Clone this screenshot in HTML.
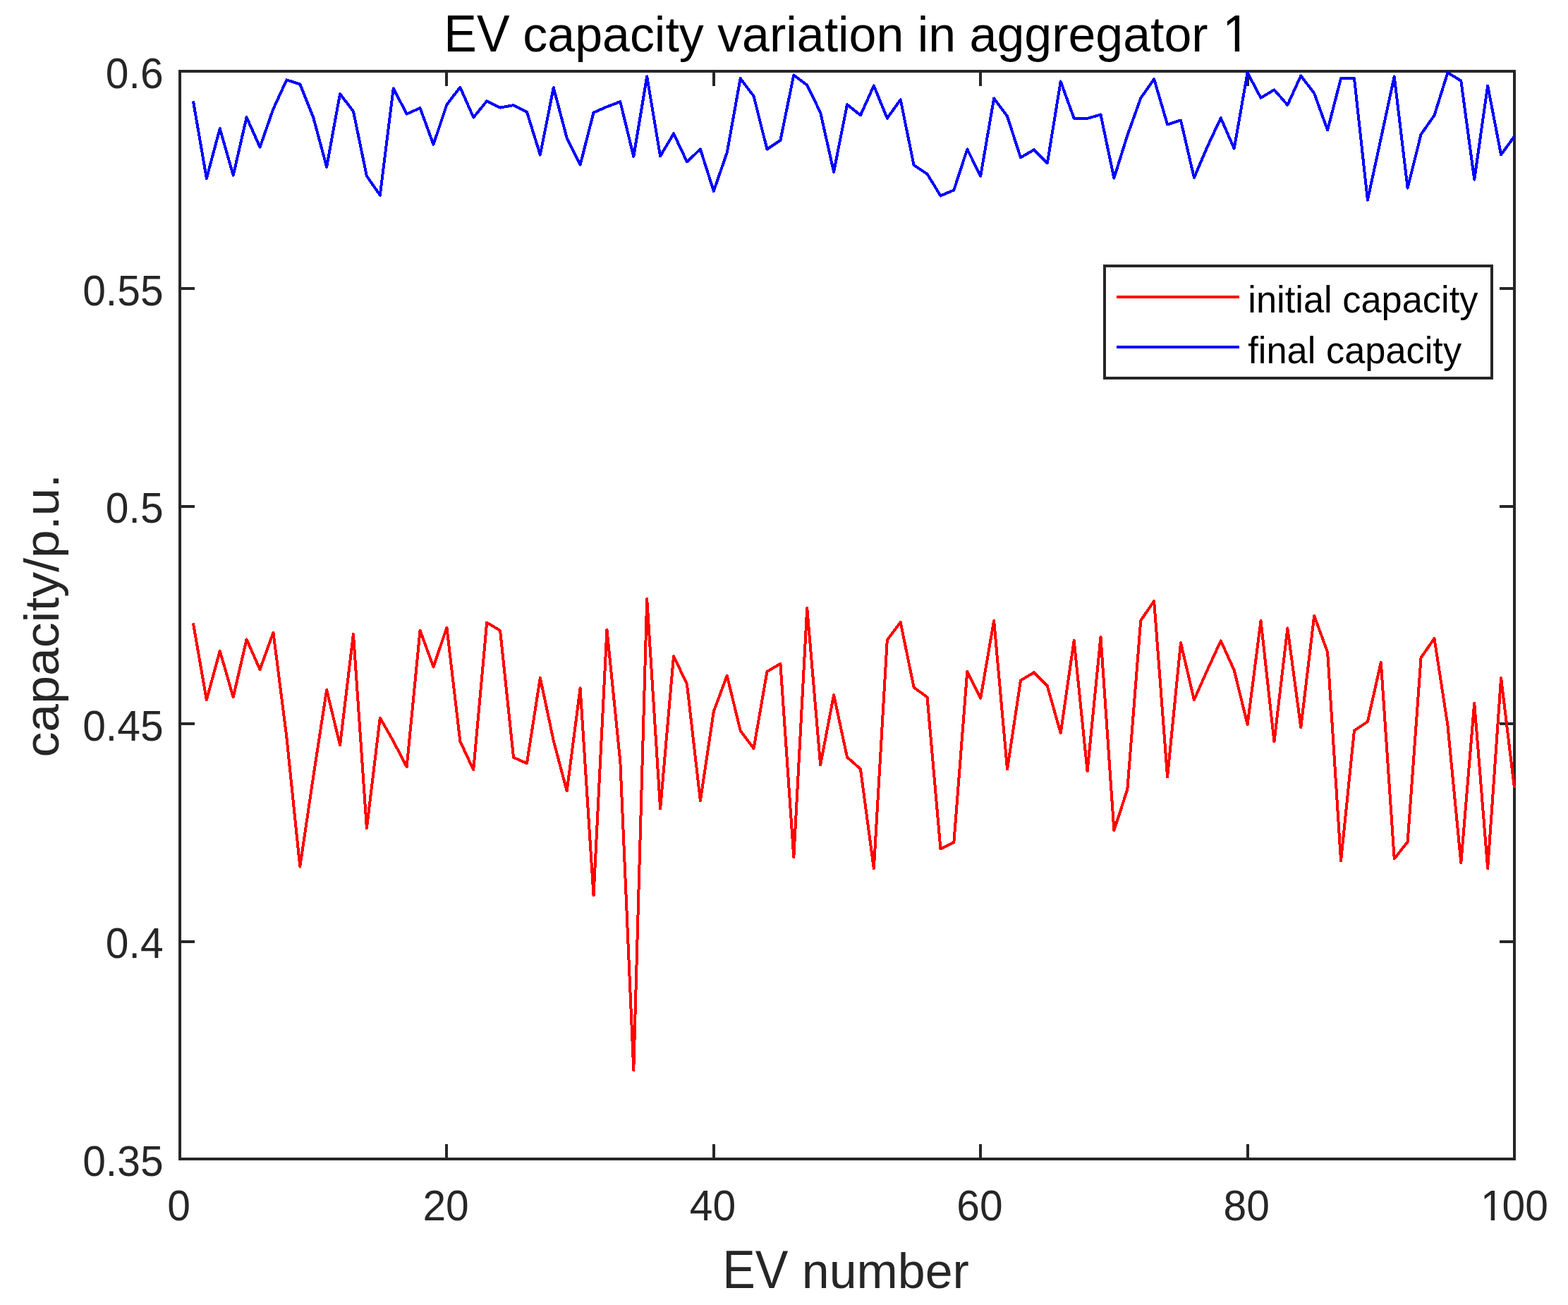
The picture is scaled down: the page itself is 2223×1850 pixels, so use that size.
<!DOCTYPE html>
<html lang="en">
<head>
<meta charset="utf-8">
<title>EV capacity variation in aggregator 1</title>
<style>
html,body{margin:0;padding:0;background:#fff;width:2223px;height:1850px;}
body{overflow:hidden;}
svg{display:block;}
text{font-family:"Liberation Sans", Arial, Helvetica, sans-serif;white-space:pre;}
</style>
</head>
<body>
<svg width="2223" height="1850" viewBox="0 0 2223 1850">
<rect x="0" y="0" width="2223" height="1850" fill="#ffffff"/>

<g stroke="#262626" stroke-width="4" fill="none" shape-rendering="crispEdges">
<rect x="255.0" y="101.0" width="1892.0" height="1542.0"/>
<line x1="633" y1="1643.0" x2="633" y2="1622.0"/>
<line x1="633" y1="101.0" x2="633" y2="122.0"/>
<line x1="1012" y1="1643.0" x2="1012" y2="1622.0"/>
<line x1="1012" y1="101.0" x2="1012" y2="122.0"/>
<line x1="1390" y1="1643.0" x2="1390" y2="1622.0"/>
<line x1="1390" y1="101.0" x2="1390" y2="122.0"/>
<line x1="1769" y1="1643.0" x2="1769" y2="1622.0"/>
<line x1="1769" y1="101.0" x2="1769" y2="122.0"/>
<line x1="255.0" y1="1335" x2="276.0" y2="1335"/>
<line x1="2147.0" y1="1335" x2="2126.0" y2="1335"/>
<line x1="255.0" y1="1026" x2="276.0" y2="1026"/>
<line x1="2147.0" y1="1026" x2="2126.0" y2="1026"/>
<line x1="255.0" y1="718" x2="276.0" y2="718"/>
<line x1="2147.0" y1="718" x2="2126.0" y2="718"/>
<line x1="255.0" y1="409" x2="276.0" y2="409"/>
<line x1="2147.0" y1="409" x2="2126.0" y2="409"/>
</g>
<defs><clipPath id="c100"><path d="M-5.00,-64.68 H105.21 V23.52 H32.70 V-4.79 H20.08 V23.52 H14.69 V-4.79 H-5.00 Z"/></clipPath><clipPath id="c1"><path d="M-5.00,-76.89 H43.88 V27.96 H38.88 V-5.62 H23.86 V27.96 H17.48 V-5.62 H-5.00 Z"/></clipPath></defs>
<text transform="translate(253.70,1729.80) scale(1.0000,1.0450)" font-size="58.8" fill="#262626" text-anchor="middle">0</text>
<text transform="translate(632.10,1729.80) scale(1.0000,1.0450)" font-size="58.8" fill="#262626" text-anchor="middle">20</text>
<text transform="translate(1010.50,1729.80) scale(1.0000,1.0450)" font-size="58.8" fill="#262626" text-anchor="middle">40</text>
<text transform="translate(1388.90,1729.80) scale(1.0000,1.0450)" font-size="58.8" fill="#262626" text-anchor="middle">60</text>
<text transform="translate(1767.30,1729.80) scale(1.0000,1.0450)" font-size="58.8" fill="#262626" text-anchor="middle">80</text>
<text transform="translate(2099.00,1729.80) scale(1.0000,1.0450)" x="0.00 30.60 63.30" font-size="58.8" fill="#262626" clip-path="url(#c100)" text-anchor="start">100</text>
<text transform="translate(231.60,1666.50) scale(1.0000,1.0450)" font-size="58.8" fill="#262626" text-anchor="end">0.35</text>
<text transform="translate(231.60,1358.10) scale(1.0000,1.0450)" font-size="58.8" fill="#262626" text-anchor="end">0.4</text>
<text transform="translate(231.60,1049.70) scale(1.0000,1.0450)" font-size="58.8" fill="#262626" text-anchor="end">0.45</text>
<text transform="translate(231.60,741.30) scale(1.0000,1.0450)" font-size="58.8" fill="#262626" text-anchor="end">0.5</text>
<text transform="translate(231.60,432.90) scale(1.0000,1.0450)" font-size="58.8" fill="#262626" text-anchor="end">0.55</text>
<text transform="translate(231.60,124.50) scale(1.0000,1.0450)" font-size="58.8" fill="#262626" text-anchor="end">0.6</text>
<text transform="translate(629.30,73.00) scale(1.0000,1.0550)" font-size="69.9" fill="#000" text-anchor="start">EV</text>
<text transform="translate(741.37,73.00)" font-size="69.9" fill="#000" text-anchor="start">capacity variation in aggregator</text>
<text transform="translate(1733.30,73.00) scale(1.0000,1.0550)" font-size="69.9" fill="#000" clip-path="url(#c1)" text-anchor="start">1</text>
<text transform="translate(1024.20,1825.90) scale(1.0000,1.0750)" font-size="69.9" fill="#262626" text-anchor="start">EV</text>
<text transform="translate(1136.87,1825.90)" font-size="69.9" fill="#262626" text-anchor="start">number</text>
<text transform="translate(82.90,1073.40) scale(0.9750,1.0236) rotate(-90)" font-size="69.9" fill="#262626" text-anchor="start">capacity/p.u.</text>
<polyline points="273.92,883.40 292.84,992.20 311.76,922.80 330.68,988.30 349.60,906.30 368.52,949.20 387.44,896.60 406.36,1045.00 425.28,1228.70 444.20,1101.00 463.12,977.80 482.04,1056.40 500.96,898.80 519.88,1174.30 538.80,1017.60 557.72,1050.80 576.64,1087.20 595.56,893.60 614.48,945.50 633.40,889.60 652.32,1050.80 671.24,1091.40 690.16,882.50 709.08,893.90 728.00,1073.70 746.92,1082.20 765.84,960.80 784.76,1050.00 803.68,1121.40 822.60,975.50 841.52,1269.50 860.44,892.60 879.36,1080.00 898.28,1517.00 917.20,848.80 936.12,1146.40 955.04,930.00 973.96,969.90 992.88,1135.30 1011.80,1008.70 1030.72,957.60 1049.64,1035.70 1068.56,1061.10 1087.48,952.10 1106.40,940.90 1125.32,1215.50 1144.24,862.00 1163.16,1084.50 1182.08,985.00 1201.00,1073.40 1219.92,1090.10 1238.84,1231.30 1257.76,907.40 1276.68,882.10 1295.60,974.50 1314.52,988.30 1333.44,1203.30 1352.36,1194.10 1371.28,951.80 1390.20,990.00 1409.12,879.70 1428.04,1090.50 1446.96,964.60 1465.88,953.40 1484.80,972.50 1503.72,1039.20 1522.64,908.00 1541.56,1093.40 1560.48,902.80 1579.40,1177.40 1598.32,1119.10 1617.24,879.70 1636.16,852.10 1655.08,1101.30 1674.00,911.10 1692.92,992.20 1711.84,949.50 1730.76,908.40 1749.68,950.10 1768.60,1027.10 1787.52,880.00 1806.44,1051.50 1825.36,890.50 1844.28,1031.30 1863.20,872.90 1882.12,924.50 1901.04,1220.40 1919.96,1035.70 1938.88,1023.20 1957.80,938.90 1976.72,1217.40 1995.64,1193.40 2014.56,932.40 2033.48,905.00 2052.40,1028.00 2071.32,1223.40 2090.24,996.80 2109.16,1231.30 2128.08,961.10 2147.00,1117.10" fill="none" stroke="#ff0000" stroke-width="4" stroke-linejoin="round" stroke-linecap="butt" shape-rendering="crispEdges"/>
<polyline points="273.92,143.30 292.84,252.90 311.76,182.20 330.68,248.70 349.60,166.20 368.52,208.60 387.44,154.50 406.36,113.30 425.28,119.30 444.20,166.50 463.12,236.60 482.04,133.00 500.96,157.90 519.88,249.50 538.80,276.70 557.72,125.30 576.64,161.60 595.56,153.10 614.48,204.80 633.40,148.50 652.32,123.60 671.24,166.50 690.16,143.30 709.08,152.60 728.00,149.10 746.92,158.50 765.84,219.50 784.76,124.20 803.68,195.70 822.60,233.70 841.52,159.60 860.44,151.30 879.36,144.20 898.28,221.80 917.20,108.40 936.12,221.40 955.04,189.40 973.96,229.40 992.88,211.50 1011.80,270.90 1030.72,216.30 1049.64,111.20 1068.56,136.20 1087.48,211.50 1106.40,198.90 1125.32,106.40 1144.24,120.70 1163.16,159.60 1182.08,243.70 1201.00,148.20 1219.92,163.40 1238.84,121.50 1257.76,167.70 1276.68,141.30 1295.60,234.00 1314.52,246.60 1333.44,277.50 1352.36,269.50 1371.28,211.50 1390.20,249.50 1409.12,139.40 1428.04,164.80 1446.96,223.40 1465.88,212.30 1484.80,231.40 1503.72,115.40 1522.64,167.70 1541.56,167.90 1560.48,162.50 1579.40,252.60 1598.32,192.00 1617.24,139.10 1636.16,112.20 1655.08,176.50 1674.00,170.50 1692.92,252.00 1711.84,207.70 1730.76,167.30 1749.68,210.60 1768.60,103.00 1787.52,138.70 1806.44,127.30 1825.36,148.80 1844.28,107.40 1863.20,132.20 1882.12,184.50 1901.04,111.10 1919.96,111.10 1938.88,283.60 1957.80,196.30 1976.72,108.40 1995.64,266.60 2014.56,190.50 2033.48,163.60 2052.40,103.00 2071.32,114.50 2090.24,254.60 2109.16,121.50 2128.08,219.40 2147.00,193.30" fill="none" stroke="#0000ff" stroke-width="4" stroke-linejoin="round" stroke-linecap="butt" shape-rendering="crispEdges"/>
<rect x="1566" y="377" width="549" height="159" fill="#fff" stroke="#262626" stroke-width="4" shape-rendering="crispEdges"/>
<line x1="1583" y1="421" x2="1757" y2="421" stroke="#ff0000" stroke-width="4" shape-rendering="crispEdges"/>
<line x1="1583" y1="492" x2="1757" y2="492" stroke="#0000ff" stroke-width="4" shape-rendering="crispEdges"/>
<text transform="translate(1769.30,442.80) scale(1.0000,1.0200)" font-size="52.4" fill="#000" text-anchor="start">initial capacity</text>
<text transform="translate(1769.30,515.00) scale(1.0000,1.0200)" font-size="52.4" fill="#000" text-anchor="start">final capacity</text>
</svg>
</body>
</html>
